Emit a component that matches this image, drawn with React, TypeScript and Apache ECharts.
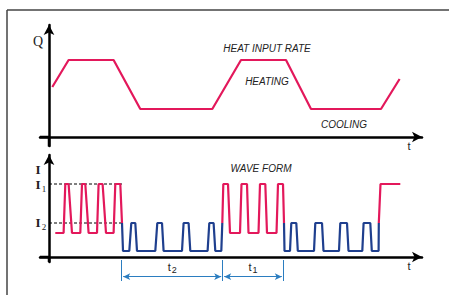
import React, { useEffect, useRef } from "react";
import * as echarts from "echarts";

// Top chart: heat input rate Q(t)
const topT = [3.3, 19.6, 64.6, 91.3, 163.3, 192, 237, 262, 332, 350.6];
const topQ = [50, 77, 77, 28, 28, 77, 77, 28, 28, 58];

// Bottom chart: current wave form I(t)
const I1 = 73;
const I2 = 34;
const redLow = 24;
const blueLow = 6;

const red1T = [6.3, 14.6, 16.3, 19.6, 23, 31.3, 33, 36.3, 39.6, 48, 49.6, 53.6, 57, 64.6, 66.3, 71.3, 73];
const red1I = [redLow, redLow, I1, I1, redLow, redLow, I1, I1, redLow, redLow, I1, I1, redLow, redLow, I1, I1, I2];

const blue1T = [73, 74, 80.3, 82.3, 86.3, 88, 106.3, 108.3, 113, 114.6, 133, 134.6, 139.6, 141.3, 158.6, 160.3, 164.6, 166.3, 172.3, 173.3];
const blue1I = [I2, blueLow, blueLow, I2, I2, blueLow, blueLow, I2, I2, blueLow, blueLow, I2, I2, blueLow, blueLow, I2, I2, blueLow, blueLow, I2];

const red2T = [173.3, 174.3, 179, 181, 191, 192.5, 198, 199.5, 209.5, 211, 216.3, 218, 227.5, 229, 234, 235];
const red2I = [I2, I1, I1, redLow, redLow, I1, I1, redLow, redLow, I1, I1, redLow, redLow, I1, I1, I2];

const blue2T = [235, 235.5, 241, 242.3, 247.3, 248.8, 265, 266.3, 273, 274.5, 290, 291.3, 298, 299.5, 313.3, 314.6, 321.3, 322.8, 329.6, 329.8];
const blue2I = [I2, blueLow, blueLow, I2, I2, blueLow, blueLow, I2, I2, blueLow, blueLow, I2, I2, blueLow, blueLow, I2, I2, blueLow, blueLow, I2];

const red3T = [329.8, 331.5, 351.3];
const red3I = [I2, I1, I1];

// Interval markers t2 and t1 (time)
const markerT = [72.7, 173.7, 234.3];
const intervalNames = ["2", "1"];

const RED = "#e3185b";
const BLUE = "#1f3f8e";
const ARROW = "#2b7dc0";

const zip = (a: number[], b: number[]) => a.map((v, i) => [v, b[i]]);

export default function App() {
  const ref = useRef<HTMLDivElement>(null);
  useEffect(() => {
    const chart = echarts.init(ref.current!, undefined, { renderer: "svg" });
    const axisLine = (extra: any) => ({
      show: true,
      onZero: true,
      symbol: ["none", "arrow"],
      symbolSize: [8, 10],
      lineStyle: { color: "#000", width: 2.5 },
      ...extra,
    });
    const hidden = {
      axisTick: { show: false },
      axisLabel: { show: false },
      splitLine: { show: false },
    };
    const lineSeries = (data: number[][], color: string, idx: number, extra: any = {}) => ({
      type: "line",
      xAxisIndex: idx,
      yAxisIndex: idx,
      data,
      symbol: "none",
      silent: true,
      lineStyle: { color, width: 2.2 },
      ...extra,
    });
    const txt = (x: number, y: number, text: string, font: string, extra: any = {}) => ({
      type: "text",
      x,
      y,
      style: { text, font, fill: "#222", textAlign: "center", textVerticalAlign: "middle", ...extra },
    });
    const serifB = "bold 13px 'Liberation Serif'";
    const tLabel = (sub: string) => ({
      show: true,
      position: "middle",
      distance: 2,
      formatter: `{a|t}{b|${sub}}`,
      rich: {
        a: { fontSize: 11, color: "#222", fontFamily: "Liberation Sans" },
        b: { fontSize: 9, color: "#222", fontFamily: "Liberation Sans", padding: [6, 0, 0, 1] },
      },
    });
    chart.setOption({
      animation: false,
      grid: [
        { left: 40, width: 382, top: 25, height: 121 },
        { left: 40, width: 382, top: 155, height: 107 },
        { left: 40, width: 382, top: 257, height: 30 },
      ],
      xAxis: [
        { type: "value", gridIndex: 0, min: -9, max: 373, axisLine: axisLine({}), ...hidden },
        { type: "value", gridIndex: 1, min: -9, max: 373, axisLine: axisLine({}), ...hidden },
        { type: "value", gridIndex: 2, min: -9, max: 373, show: false },
      ],
      yAxis: [
        { type: "value", gridIndex: 0, min: -9, max: 112, axisLine: axisLine({}), ...hidden },
        { type: "value", gridIndex: 1, min: -5, max: 102, axisLine: axisLine({}), ...hidden },
        { type: "value", gridIndex: 2, min: -30, max: 0, show: false },
      ],
      series: [
        lineSeries(zip(topT, topQ), RED, 0),
        lineSeries([[0, I1], [73, I1]], "#000", 1, { lineStyle: { color: "#000", width: 1, type: [3, 2] } }),
        lineSeries([[0, I2], [73, I2]], "#000", 1, { lineStyle: { color: "#000", width: 1, type: [3, 2] } }),
        lineSeries(zip(red1T, red1I), RED, 1),
        lineSeries(zip(blue1T, blue1I), BLUE, 1),
        lineSeries(zip(red2T, red2I), RED, 1),
        lineSeries(zip(blue2T, blue2I), BLUE, 1),
        lineSeries(zip(red3T, red3I), RED, 1),
        {
          type: "line",
          xAxisIndex: 2,
          yAxisIndex: 2,
          data: [[markerT[0], -3]],
          symbol: "none",
          silent: true,
          lineStyle: { opacity: 0 },
          markLine: {
            silent: true,
            symbol: ["arrow", "arrow"],
            symbolSize: [5, 7],
            lineStyle: { color: ARROW, width: 1, type: "solid" },
            label: { show: false },
            data: [
              ...markerT.map((t) => [
                { coord: [t, -3], symbol: "none" },
                { coord: [t, -24], symbol: "none" },
              ]),
              ...intervalNames.map((n, i) => [
                { coord: [markerT[i] + 1.5, -19.7], label: tLabel(n) },
                { coord: [markerT[i + 1] - 1.5, -19.7] },
              ]),
            ],
          },
        },
      ],
      graphic: [
        { type: "line", shape: { x1: 7, y1: 10, x2: 449, y2: 10 }, style: { stroke: "#444", lineWidth: 1.5 } },
        { type: "line", shape: { x1: 7, y1: 10, x2: 7, y2: 295 }, style: { stroke: "#444", lineWidth: 1.5 } },
        { type: "line", shape: { x1: 49, y1: 137, x2: 49, y2: 146.5 }, style: { stroke: "#000", lineWidth: 2.5 } },
        { type: "line", shape: { x1: 40, y1: 257, x2: 49, y2: 257 }, style: { stroke: "#000", lineWidth: 2.5 } },
        { type: "line", shape: { x1: 40, y1: 137, x2: 49, y2: 137 }, style: { stroke: "#000", lineWidth: 2.5 } },
        { type: "line", shape: { x1: 49, y1: 257, x2: 49, y2: 262 }, style: { stroke: "#000", lineWidth: 2.5 } },
        txt(38, 41, "Q", "14px 'Liberation Serif'"),
        txt(409, 146, "t", "11px 'Liberation Sans'"),
        txt(409, 266, "t", "11px 'Liberation Sans'"),
        txt(267, 48, "HEAT INPUT RATE", "italic 10px 'Liberation Sans'"),
        txt(267, 81, "HEATING", "italic 10px 'Liberation Sans'"),
        txt(344, 124, "COOLING", "italic 10px 'Liberation Sans'"),
        txt(261, 168, "WAVE FORM", "italic 10px 'Liberation Sans'"),
        txt(38, 169, "I", serifB),
        txt(38, 184, "I", serifB),
        txt(44, 189, "1", "9px 'Liberation Serif'"),
        txt(38, 222, "I", serifB),
        txt(44, 227, "2", "9px 'Liberation Serif'"),
      ],
    });
    return () => chart.dispose();
  }, []);
  return (
    <div
      ref={ref}
      style={{ position: "fixed", left: 0, top: 0, width: 449, height: 295, background: "#fff" }}
    />
  );
}
